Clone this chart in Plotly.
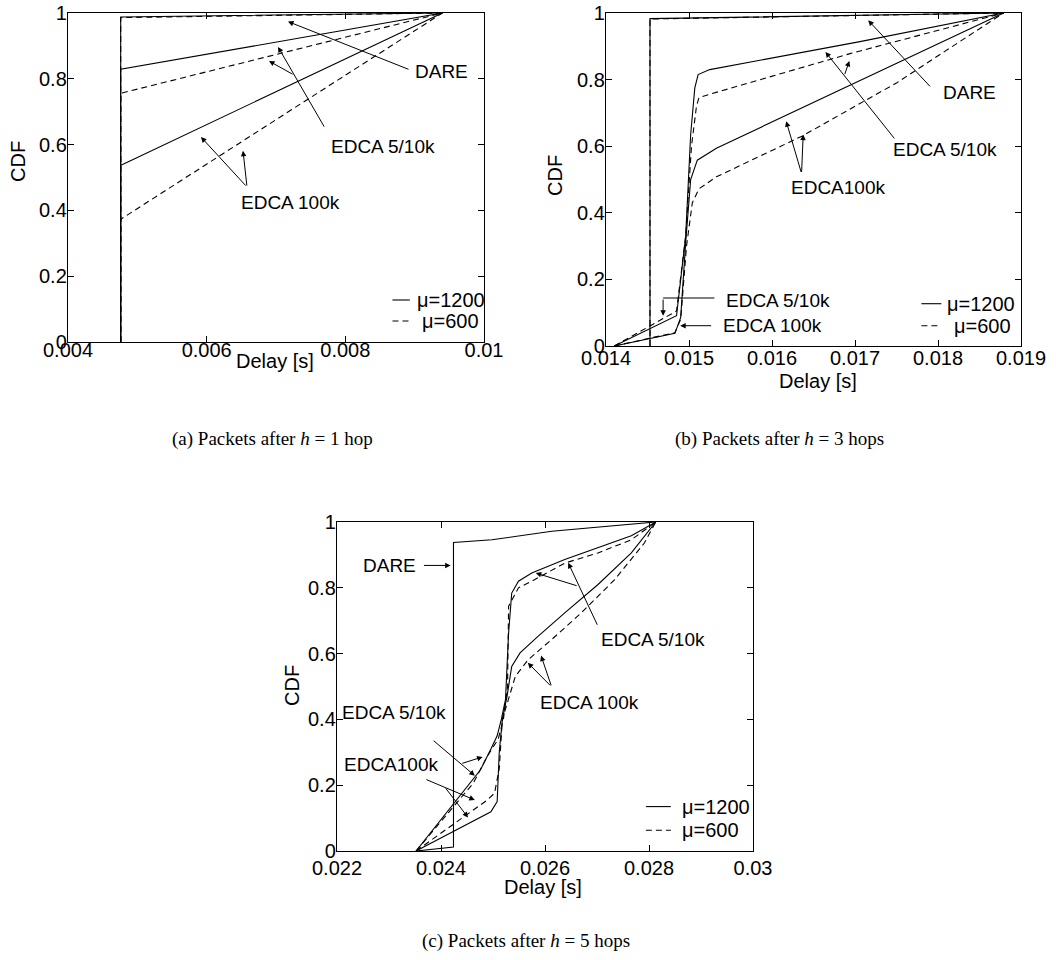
import plotly.graph_objects as go

# ---------------- data ----------------
# Panel (a): packets after h = 1 hop
a_dare_1200_x = [0.00476, 0.00476, 0.0094]
a_dare_1200_y = [0.0, 0.988, 1.0]
a_dare_600_x = [0.00476, 0.00476, 0.0094]
a_dare_600_y = [0.0, 0.986, 1.0]
a_e510_1200_x = [0.00476, 0.00476, 0.0094]
a_e510_1200_y = [0.0, 0.829, 1.0]
a_e510_600_x = [0.00476, 0.00476, 0.0094]
a_e510_600_y = [0.0, 0.756, 1.0]
a_e100_1200_x = [0.00476, 0.00476, 0.00484, 0.0094]
a_e100_1200_y = [0.0, 0.537, 0.545, 1.0]
a_e100_600_x = [0.00476, 0.00476, 0.0094]
a_e100_600_y = [0.0, 0.373, 1.0]

# Panel (b): packets after h = 3 hops
b_dare_1200_x = [0.01453, 0.01453, 0.01879]
b_dare_1200_y = [0.0, 0.983, 1.0]
b_dare_600_x = [0.01453, 0.01453, 0.01879]
b_dare_600_y = [0.0, 0.982, 1.0]
b_e510_1200_x = [0.0141, 0.01485, 0.01496, 0.01502, 0.01507, 0.01511, 0.01525, 0.01706, 0.01879]
b_e510_1200_y = [0.0, 0.091, 0.33, 0.635, 0.775, 0.815, 0.83, 0.914, 1.0]
b_e510_600_x = [0.0141, 0.01485, 0.01496, 0.01503, 0.01509, 0.01512, 0.01525, 0.01694, 0.01879]
b_e510_600_y = [0.0, 0.105, 0.33, 0.6, 0.72, 0.746, 0.756, 0.878, 1.0]
b_e100_1200_x = [0.0141, 0.01483, 0.0149, 0.01496, 0.01502, 0.0151, 0.01533, 0.01879]
b_e100_1200_y = [0.0, 0.038, 0.086, 0.31, 0.5, 0.558, 0.594, 1.0]
b_e100_600_x = [0.0141, 0.01483, 0.0149, 0.01497, 0.01504, 0.01512, 0.01533, 0.01636, 0.0175, 0.01879]
b_e100_600_y = [0.0, 0.04, 0.08, 0.3, 0.43, 0.472, 0.508, 0.63, 0.79, 1.0]

# Panel (c): packets after h = 5 hops
c_dare_1200_x = [0.02352, 0.02424, 0.02424, 0.02498, 0.02613, 0.02813]
c_dare_1200_y = [0.0, 0.012, 0.938, 0.946, 0.972, 1.0]
c_e510_1200_x = [0.02352, 0.02476, 0.02496, 0.02508, 0.02516, 0.02524, 0.0253, 0.02536, 0.02549,
                 0.025745, 0.02638, 0.02702, 0.02766, 0.02813]
c_e510_1200_y = [0.0, 0.247, 0.31, 0.35, 0.40, 0.46, 0.663, 0.784, 0.82,
                 0.845, 0.886, 0.921, 0.958, 1.0]
c_e510_600_x = [0.02352, 0.02462, 0.02489, 0.0251, 0.0252, 0.02528, 0.0253, 0.02549,
                0.025745, 0.02638, 0.02702, 0.02766, 0.02813]
c_e510_600_y = [0.0, 0.206, 0.288, 0.34, 0.40, 0.50, 0.744, 0.80,
                0.82, 0.875, 0.906, 0.946, 1.0]
c_e100_1200_x = [0.02352, 0.02496, 0.02508, 0.02512, 0.02518, 0.02527, 0.02536, 0.02552,
                 0.02587, 0.02638, 0.02702, 0.02766, 0.02813]
c_e100_1200_y = [0.0, 0.119, 0.15, 0.30, 0.40, 0.47, 0.561, 0.602,
                 0.653, 0.724, 0.81, 0.906, 1.0]
c_e100_600_x = [0.02352, 0.02489, 0.02503, 0.02512, 0.02518, 0.0253, 0.02543, 0.02568,
                0.02613, 0.0267, 0.02734, 0.02791, 0.02813]
c_e100_600_y = [0.0, 0.155, 0.176, 0.25, 0.40, 0.46, 0.531, 0.582,
                0.643, 0.724, 0.825, 0.936, 1.0]

# Tick labels
a_xticks = [0.004, 0.006, 0.008, 0.01]
a_xticktext = ["0.004", "0.006", "0.008", "0.01"]
b_xticks = [0.014, 0.015, 0.016, 0.017, 0.018, 0.019]
b_xticktext = ["0.014", "0.015", "0.016", "0.017", "0.018", "0.019"]
c_xticks = [0.022, 0.024, 0.026, 0.028, 0.03]
c_xticktext = ["0.022", "0.024", "0.026", "0.028", "0.03"]
yticks = [0, 0.2, 0.4, 0.6, 0.8, 1]
yticktext = ["0", "0.2", "0.4", "0.6", "0.8", "1"]

legend_labels = ["\u03bc=1200", "\u03bc=600"]
captions = ["(a) Packets after <i>h</i> = 1 hop",
            "(b) Packets after <i>h</i> = 3 hops",
            "(c) Packets after <i>h</i> = 5 hops"]

# ---------------- figure ----------------
W, H = 1056, 960
SANS = "Liberation Sans, Arial, sans-serif"
SERIF = "Liberation Serif, Times New Roman, serif"
DASH = "6px,4px"


def px(x):
    return x / W


def py(y):
    return 1 - y / H


fig = go.Figure()

panels = [
    ("x", "y", [(a_dare_1200_x, a_dare_1200_y, "solid"), (a_dare_600_x, a_dare_600_y, DASH),
                (a_e510_1200_x, a_e510_1200_y, "solid"), (a_e510_600_x, a_e510_600_y, DASH),
                (a_e100_1200_x, a_e100_1200_y, "solid"), (a_e100_600_x, a_e100_600_y, DASH)]),
    ("x2", "y2", [(b_dare_1200_x, b_dare_1200_y, "solid"), (b_dare_600_x, b_dare_600_y, DASH),
                  (b_e510_1200_x, b_e510_1200_y, "solid"), (b_e510_600_x, b_e510_600_y, DASH),
                  (b_e100_1200_x, b_e100_1200_y, "solid"), (b_e100_600_x, b_e100_600_y, DASH)]),
    ("x3", "y3", [(c_dare_1200_x, c_dare_1200_y, "solid"),
                  (c_e510_1200_x, c_e510_1200_y, "solid"), (c_e510_600_x, c_e510_600_y, DASH),
                  (c_e100_1200_x, c_e100_1200_y, "solid"), (c_e100_600_x, c_e100_600_y, DASH)]),
]
for xa, ya, curves in panels:
    for xs, ys, dash in curves:
        fig.add_trace(go.Scatter(x=xs, y=ys, mode="lines", xaxis=xa, yaxis=ya,
                                 line=dict(color="black", width=1.1, dash=dash),
                                 showlegend=False, hoverinfo="skip"))

# panel domains (pixels): left, right, top, bottom, x-label standoff
doms = {
    "a": (68, 484, 13, 342, -10),
    "b": (606, 1021, 13, 346, -6),
    "c": (337, 753, 522, 851, -1),
}


def axis_common():
    return dict(showline=True, linecolor="black", linewidth=1.4, mirror="ticks",
                ticks="inside", ticklen=6, tickwidth=1, tickcolor="black",
                showgrid=False, zeroline=False, automargin=False,
                tickfont=dict(family=SANS, size=20, color="black"))


layout_axes = {}
for key, (xn, yn, ticks, ttext, rng) in {
    "a": ("xaxis", "yaxis", a_xticks, a_xticktext, [0.004, 0.01]),
    "b": ("xaxis2", "yaxis2", b_xticks, b_xticktext, [0.014, 0.019]),
    "c": ("xaxis3", "yaxis3", c_xticks, c_xticktext, [0.022, 0.03]),
}.items():
    l, r, t, b, so = doms[key]
    yname = yn.replace("yaxis", "y")
    xname = xn.replace("xaxis", "x")
    layout_axes[xn] = dict(axis_common(), domain=[px(l), px(r)], range=rng,
                           tickvals=ticks, ticktext=ttext, anchor=yname,
                           ticklabelstandoff=so)
    layout_axes[yn] = dict(axis_common(), domain=[py(b), py(t)], range=[0, 1],
                           tickvals=yticks, ticktext=yticktext, anchor=xname,
                           ticklabelstandoff=-4)

fig.update_layout(**layout_axes)

annotations = []
shapes = []


def text(xr, yr, x, y, s, size=19, xanchor="center", font=SANS, **kw):
    annotations.append(dict(xref=xr, yref=yr, x=x, y=y, text=s, showarrow=False,
                            xanchor=xanchor, yanchor="middle",
                            font=dict(family=font, size=size, color="black"), **kw))


def arrow(xr, yr, hx, hy, tx, ty):
    annotations.append(dict(xref=xr, yref=yr, axref=xr, ayref=yr, x=hx, y=hy, ax=tx, ay=ty,
                            text="", showarrow=True, arrowhead=2, arrowsize=1.1,
                            arrowwidth=1, arrowcolor="black"))


def seg(xr, yr, x0, y0, x1, y1, dash="solid"):
    shapes.append(dict(type="line", xref=xr, yref=yr, x0=x0, y0=y0, x1=x1, y1=y1,
                       line=dict(color="black", width=1.1, dash=dash)))


# ----- panel (a) annotations
text("x", "y", 0.00939, 0.822, "DARE")
arrow("x", "y", 0.007173, 0.974, 0.008933, 0.827)
text("x", "y", 0.008536, 0.593, "EDCA 5/10k")
arrow("x", "y", 0.007029, 0.897, 0.007707, 0.650)
arrow("x", "y", 0.006899, 0.854, 0.00726, 0.8116)
text("x", "y", 0.007209, 0.4255, "EDCA 100k")
arrow("x", "y", 0.005918, 0.623, 0.006582, 0.471)
arrow("x", "y", 0.006524, 0.581, 0.006582, 0.471)
# legend (a)
seg("x", "y", 0.00868, 0.1277, 0.00893, 0.1277)
text("x", "y", 0.009005, 0.1277, legend_labels[0], size=20, xanchor="left")
seg("x", "y", 0.00868, 0.0638, 0.00893, 0.0638, DASH)
text("x", "y", 0.009077, 0.0638, legend_labels[1], size=20, xanchor="left")

# ----- panel (b) annotations
text("x2", "y2", 0.018374, 0.761, "DARE")
arrow("x2", "y2", 0.017159, 0.978, 0.017921, 0.775)
text("x2", "y2", 0.018086, 0.589, "EDCA 5/10k")
arrow("x2", "y2", 0.016644, 0.883, 0.017488, 0.619)
arrow("x2", "y2", 0.016932, 0.856, 0.016871, 0.812)
text("x2", "y2", 0.016797, 0.477, "EDCA100k")
arrow("x2", "y2", 0.016171, 0.675, 0.016356, 0.518)
arrow("x2", "y2", 0.016376, 0.635, 0.016356, 0.518)
text("x2", "y2", 0.016076, 0.137, "EDCA 5/10k")
seg("x2", "y2", 0.015306, 0.144, 0.014688, 0.144)
arrow("x2", "y2", 0.014688, 0.091, 0.014688, 0.144)
text("x2", "y2", 0.016006, 0.061, "EDCA 100k")
arrow("x2", "y2", 0.014894, 0.061, 0.015285, 0.061)
# legend (b)
seg("x2", "y2", 0.01780, 0.127, 0.01804, 0.127)
text("x2", "y2", 0.018086, 0.127, legend_labels[0], size=20, xanchor="left")
seg("x2", "y2", 0.01780, 0.061, 0.01804, 0.061, DASH)
text("x2", "y2", 0.018168, 0.061, legend_labels[1], size=20, xanchor="left")

# ----- panel (c) annotations
text("x3", "y3", 0.023019, 0.868, "DARE")
arrow("x3", "y3", 0.024185, 0.868, 0.023643, 0.868)
text("x3", "y3", 0.028083, 0.643, "EDCA 5/10k")
arrow("x3", "y3", 0.026446, 0.876, 0.027019, 0.683)
arrow("x3", "y3", 0.025822, 0.845, 0.026637, 0.805)
text("x3", "y3", 0.02686, 0.45, "EDCA 100k")
arrow("x3", "y3", 0.025669, 0.572, 0.026127, 0.499)
arrow("x3", "y3", 0.025924, 0.594, 0.026127, 0.499)
text("x3", "y3", 0.02310, 0.42, "EDCA 5/10k")
arrow("x3", "y3", 0.02465, 0.229, 0.02383, 0.339)
arrow("x3", "y3", 0.0248, 0.286, 0.02438, 0.265)
text("x3", "y3", 0.02304, 0.262, "EDCA100k")
arrow("x3", "y3", 0.02465, 0.155, 0.02369, 0.219)
arrow("x3", "y3", 0.02452, 0.102, 0.02407, 0.195)
# legend (c)
seg("x3", "y3", 0.02794, 0.135, 0.02842, 0.135)
text("x3", "y3", 0.02860, 0.135, legend_labels[0], size=20, xanchor="left")
seg("x3", "y3", 0.02794, 0.063, 0.02842, 0.063, DASH)
text("x3", "y3", 0.02860, 0.063, legend_labels[1], size=20, xanchor="left")

# ----- axis titles (paper coords)
text("paper", "paper", px(18), py(162), "CDF", size=20, textangle=-90)
text("paper", "paper", px(555), py(176), "CDF", size=20, textangle=-90)
text("paper", "paper", px(292), py(686), "CDF", size=20, textangle=-90)
text("paper", "paper", px(275), py(361), "Delay [s]", size=20)
text("paper", "paper", px(818), py(381), "Delay [s]", size=20)
text("paper", "paper", px(543), py(887), "Delay [s]", size=20)

# ----- captions
text("paper", "paper", px(272), py(439), captions[0], size=19, font=SERIF)
text("paper", "paper", px(779), py(439), captions[1], size=19, font=SERIF)
text("paper", "paper", px(526), py(941), captions[2], size=19, font=SERIF)

fig.update_layout(annotations=annotations, shapes=shapes,
                  width=W, height=H, margin=dict(l=0, r=0, t=0, b=0, autoexpand=False),
                  paper_bgcolor="white", plot_bgcolor="white", showlegend=False)

fig.write_html("out.html", config={"displayModeBar": False},
               post_script="document.body.style.margin='0';")
